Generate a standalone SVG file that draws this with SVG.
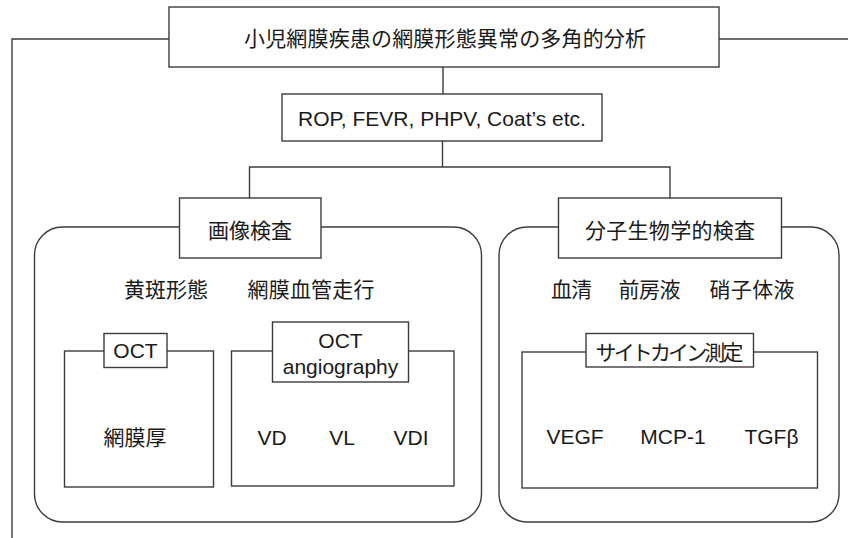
<svg xmlns="http://www.w3.org/2000/svg" width="848" height="538" viewBox="0 0 848 538">
<style>
.ln{fill:none;stroke:#3c3c3c;stroke-width:1.4}
.bx{fill:#fff;stroke:#3c3c3c;stroke-width:1.4}
.grp{fill:none;stroke:#3c3c3c;stroke-width:1.4}
.jp{font-family:"Noto Sans CJK JP","Liberation Sans",sans-serif;font-size:21px;fill:#1a1a1a;text-anchor:middle}
.en{font-family:"Liberation Sans",Arial,sans-serif;font-size:21px;fill:#1a1a1a;text-anchor:middle}
</style>
<rect width="848" height="538" fill="#fff"/>
<g id="connectors">
<polyline class="ln" points="169,39 12,39 12,538"/>
<line class="ln" x1="719" y1="39" x2="848" y2="39"/>
<line class="ln" x1="443" y1="67" x2="443" y2="94"/>
<line class="ln" x1="442.5" y1="141" x2="442.5" y2="167"/>
<polyline class="ln" points="249.5,198 249.5,167 670,167 670,198"/>
</g>
<g id="imaging-group">
<rect class="grp" x="34.5" y="227" width="447" height="295" rx="28" ry="28"/>
</g>
<g id="molecular-group">
<rect class="grp" x="499" y="227" width="340" height="295" rx="28" ry="28"/>
</g>
<g id="title">
<rect class="bx" x="169" y="7" width="550" height="60"/>
<text class="jp" x="445" y="46" textLength="402" lengthAdjust="spacing">小児網膜疾患の網膜形態異常の多角的分析</text>
</g>
<g id="diseases">
<rect class="bx" x="282" y="94" width="320" height="47"/>
<text class="en" x="442" y="126">ROP, FEVR, PHPV, Coat’s etc.</text>
</g>
<g id="imaging">
<rect class="bx" x="179.5" y="198" width="141.5" height="60"/>
<text class="jp" x="250" y="238" textLength="84" lengthAdjust="spacing">画像検査</text>
</g>
<g id="imaging-items">
<text class="jp" x="166" y="297" textLength="84" lengthAdjust="spacing">黄斑形態</text>
<text class="jp" x="311" y="297" textLength="127" lengthAdjust="spacing">網膜血管走行</text>
</g>
<g id="oct">
<rect class="grp" x="64.5" y="351" width="149" height="136"/>
<rect class="bx" x="104" y="333.5" width="63" height="34"/>
<text class="en" x="135.5" y="358.3">OCT</text>
<text class="jp" x="135" y="445" textLength="63" lengthAdjust="spacing">網膜厚</text>
</g>
<g id="octa">
<rect class="grp" x="231.5" y="351" width="222.5" height="135"/>
<rect class="bx" x="272.5" y="322" width="136" height="60"/>
<text class="en" x="340.5" y="347.5">OCT</text>
<text class="en" x="340.5" y="374">angiography</text>
<text class="en" x="272" y="444.8">VD</text>
<text class="en" x="342" y="444.8">VL</text>
<text class="en" x="411" y="444.8">VDI</text>
</g>
<g id="molecular">
<rect class="bx" x="558.5" y="198" width="223" height="60"/>
<text class="jp" x="670" y="238" textLength="170" lengthAdjust="spacing">分子生物学的検査</text>
</g>
<g id="samples">
<text class="jp" x="571.5" y="297" textLength="41" lengthAdjust="spacing">血清</text>
<text class="jp" x="649.5" y="297" textLength="62" lengthAdjust="spacing">前房液</text>
<text class="jp" x="752" y="297" textLength="85" lengthAdjust="spacing">硝子体液</text>
</g>
<g id="cytokine">
<rect class="grp" x="522" y="352" width="295.5" height="136"/>
<rect class="bx" x="586" y="333.5" width="167.5" height="33.5"/>
<text class="jp" x="669.5" y="359.5" textLength="148" lengthAdjust="spacing">サイトカイン測定</text>
<text class="en" x="575" y="444">VEGF</text>
<text class="en" x="673" y="444">MCP-1</text>
<text class="en" x="771.5" y="444">TGFβ</text>
</g>
</svg>
